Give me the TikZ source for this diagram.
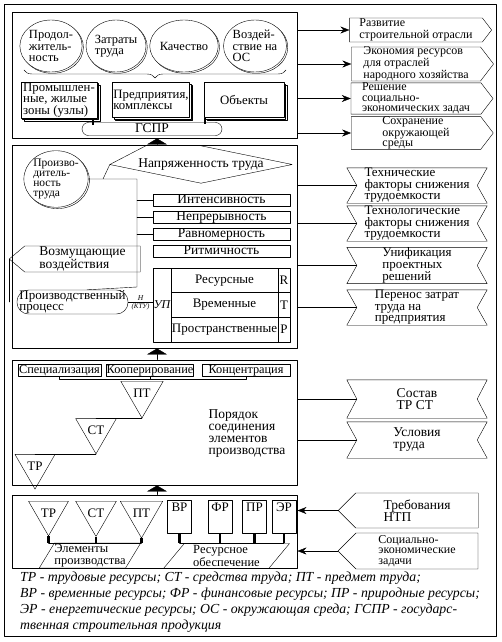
\documentclass[tikz,border=0pt]{standalone}
\usepackage{fontspec}
\setmainfont{Liberation Serif}
\usetikzlibrary{arrows.meta,shapes.geometric,shapes.misc,shapes.symbols,shadows,decorations.pathreplacing}
\begin{document}
\begin{tikzpicture}[x=1pt,y=-1pt,>={Stealth[length=9pt,width=7pt]},line join=round,line cap=round,
	font=\fontsize{13.5}{12}\selectfont,
	blk/.style={draw,line width=0.9pt,minimum width=285pt,inner sep=0pt},
	circ/.style={ellipse,draw,fill=white,inner sep=0pt,align=left,copy shadow={shadow xshift=1.3pt,shadow yshift=-1.3pt}},
	sbox/.style={draw,fill=white,minimum height=35pt,inner sep=1pt,align=left,font=\fontsize{12.8}{11.5}\selectfont,double copy shadow={shadow xshift=1.5pt,shadow yshift=-1.5pt}},
	sigr/.style={signal,signal to=east,signal pointer angle=105,draw,minimum width=142pt,inner sep=0pt,align=left},
	sigl/.style={signal,signal to=west,signal pointer angle=90,draw,minimum width=140pt,inner sep=0pt,align=left},
	rib/.style={minimum width=140pt,inner sep=0pt,align=left},
	cell/.style={draw,minimum height=24.67pt,inner sep=0pt,font=\fontsize{13}{12}\selectfont},
	bar/.style={draw,minimum width=137pt,minimum height=12pt,inner sep=0pt,text height=9pt,text depth=2.5pt},
	tri/.style={regular polygon,regular polygon sides=3,shape border rotate=180,draw,minimum size=46.2pt,inner sep=0pt,font=\fontsize{13}{12}\selectfont},
	para/.style={trapezium,trapezium stretches=true,draw,minimum height=25pt,inner sep=0pt,align=left,font=\fontsize{12.5}{11.5}\selectfont},
	stem/.style={line width=2.2pt,line cap=butt},
	up/.style={-{Triangle[width=20pt,length=6pt]}}]
	\useasboundingbox (0,0) rectangle (502,642);
	\draw[line width=1pt] (4,5) rectangle (496,636);
	\coordinate (m) at (157,0);

	\node[blk,minimum height=126pt] (b1) at (154.5,75) {};
	\foreach \n/\x/\t in {c1/51/{Продол-\\житель-\\ность},c2/116/{Затраты\\труда},c3/184/Качество,c4/255/{Воздей-\\ствие на\\ОС}}
		\node[circ,minimum width=60pt,minimum height=52pt,font=\fontsize{12.5}{11.5}\selectfont] (\n) at (\x,46) {\t};
	\draw[decorate,decoration={brace,mirror,amplitude=8pt}] (24,70) -- (286,70);
	\foreach \n/\x/\w/\t in {s1/59/76/{Промышлен-\\ные, жилые\\зоны (узлы)},s2/151/77/{Предприятия,\\комплексы},s3/244/80/Объекты}
		\node[sbox,minimum width=\w pt] (\n) at (\x,100) {\t};
	\node[draw,fill=white,rounded rectangle,minimum width=140pt,minimum height=13pt,inner sep=0pt,text height=9pt,text depth=2pt] (g) at (152,129) {ГСПР};
	\draw[stem] ([xshift=-4pt]s1.south east) -- +(0,6.5) ([xshift=1pt]s3.south west) -- +(0,6.5);
	\foreach \n/\y/\h/\f/\t in {r1/30/24/12/{Развитие\\строительной отрасли},r2/64/30/10.5/{Экономия ресурсов\\для отраслей\\народного хозяйства},r3/98.5/30/10.5/{Решение\\социально-\\экономических задач},r4/133/30/10.5/{Сохранение\\окружающей\\среды}}
		\node[sigr,minimum height=\h pt,font=\fontsize{12}{\f}\selectfont] (\n) at (416,\y) {\t};
	\foreach \n in {r1,r2,r3,r4}
		\draw[->] (b1.east |- \n.west) -- (\n.west);

	\node[blk,minimum height=203pt] (b2) at (154.5,246.5) {};
	\draw[up] (m |- b2.north) -- (m |- b1.south);
	\node[circ,minimum size=52pt,font=\fontsize{11.5}{10}\selectfont] (pc) at (56,179) {Произво-\\дитель-\\ность\\труда};
	\node[minimum width=182pt,minimum height=37pt,inner sep=0pt] (nt) at (201,164.5) {Напряженность труда};
	\draw ([xshift=36pt]nt.north west) -- (nt.west) -- (nt.south) -- (nt.east) -- (nt.north);
	\foreach \n/\y/\t in {i1/200/Интенсивность,i2/217/Непрерывность,i3/234/Равномерность,i4/251/Ритмичность}
		\node[bar] (\n) at (221.5,\y) {\t};
	\node[signal,signal to=west,signal pointer angle=80,draw,minimum width=131pt,minimum height=26pt,inner sep=0pt,align=left,font=\fontsize{13.5}{12}\selectfont] (vd) at (82.5,259) {Возмущающие\\воздействия};
	\node[draw,rounded corners=11.5pt,minimum width=111pt,minimum height=24pt,inner sep=0pt,align=left,font=\fontsize{13}{11.5}\selectfont] (pp) at (72.5,302) {Производственный\\процесс};
	\coordinate (v) at (137,179);
	\draw (pc.east) -- (103,179) -- (nt.west) (103,179) -- (v) -- (137,287) -- (pp.40);
	\foreach \n in {i1,i2,i3}
		\draw (v |- \n.west) -- (\n.west);
	\draw (vd.west) -- (vd.west |- pp.west);
	\node[draw,minimum width=18pt,minimum height=74pt,inner sep=0pt,font=\fontsize{12}{12}\itshape\selectfont] (upl) at (162,305) {УП};
	\foreach \n/\l/\y/\t/\s in {ra/la/280.33/Ресурсные/R,rb/lb/305/Временные/T,rc/lc/329.67/Пространственные/P}{
		\node[cell,minimum width=107pt] (\n) at (224.5,\y) {\t};
		\node[cell,minimum width=12pt] (\l) at (284,\y) {\s};
	}
	\draw (pp.east) -- (upl.west |- pp.east)
		node[midway,above,inner sep=1pt,font=\fontsize{7.5}{7}\itshape\selectfont] {Н}
		node[midway,below,inner sep=1pt,font=\fontsize{7}{7}\itshape\selectfont] {(КТУ)};
	\foreach \n/\y/\t in {f1/185.5/{Технические\\факторы снижения\\трудоемкости},f2/223.5/{Технологические\\факторы снижения\\трудоемкости},f3/265.5/{Унификация\\проектных\\решений},f4/307.5/{Перенос затрат\\труда на\\предприятия}}
		\node[rib,minimum height=35pt,font=\fontsize{13}{11.5}\selectfont] (\n) at (417,\y) {\t};

	\node[blk,minimum height=125pt] (b3) at (154.5,422.5) {};
	\draw[up] (m |- b3.north) -- (m |- b2.south);
	\foreach \n/\x/\w/\t in {sp/59.5/83/Специализация,ko/150/84/Кооперирование,kc/246/88/Концентрация}
		\node[draw,minimum width=\w pt,minimum height=12pt,inner sep=0pt,font=\fontsize{12.3}{12}\selectfont,text height=8.5pt,text depth=2.5pt] (\n) at (\x,370) {\t};
	\draw (sp.south) -- ++(0,3) -| (kc.south) (ko.south) -- ++(0,3);
	\node[tri,anchor=north] (p3) at (142,381) {ПТ};
	\node[tri,anchor=north] (c3) at ([xshift=-46pt]p3.south) {СТ};
	\node[tri,anchor=north] (t3) at ([xshift=-61pt]c3.south) {ТР};
	\draw (p3.south) -- (c3.north) (c3.south) -- (t3.north);
	\node[anchor=west,align=left,font=\fontsize{13.5}{12}\selectfont] (po) at (205,434) {Порядок\\соединения\\элементов\\производства};
	\node[rib,minimum height=38pt] (sa) at (417,399) {Состав\\ТР СТ};
	\node[rib,minimum height=36pt] (ut) at (417,440) {Условия\\труда};
	\foreach \n in {f1,f2,f3,f4,sa,ut}{
		\draw (\n.north west) -- ([xshift=10pt]\n.west) -- (\n.south west) -- (\n.south east) -- ([xshift=-10pt]\n.east) -- (\n.north east) -- cycle;
		\draw (b2.east |- \n.west) -- ([xshift=10pt]\n.west);
	}

	\node[blk,minimum height=73pt] (b4) at (154.5,531.5) {};
	\draw[up] (m |- b4.north) -- (m |- b3.south);
	\foreach \n/\x/\t in {e1/48.5/ТР,e2/96/СТ,e3/141.5/ПТ}
		\node[tri,anchor=north] (\n) at (\x,501) {\t};
	\node[para,minimum width=94pt,trapezium left angle=56,trapezium right angle=124] (ep) at (90,555.5) {Элементы\\производства};
	\node[para,minimum width=127pt,trapezium left angle=52,trapezium right angle=128] (ro) at (226.5,556) {Ресурсное\\обеспечение};
	\foreach \n in {e1,e2,e3}
		\draw[stem] (\n.south) -- (\n.south |- ep.north);
	\draw (e1.south |- ep.north) -- (e3.south |- ep.north);
	\foreach \n/\x/\t in {vr/179.5/ВР,fr/220/ФР,pr/254.5/ПР,er/284/ЭР}
		\node[draw,minimum width=24pt,minimum height=33pt,inner sep=0pt,label={[anchor=north,inner sep=3pt,font=\fontsize{13}{12}\selectfont]north:\t}] (\n) at (\x,516.5) {};
	\foreach \n in {vr,fr,pr,er}
		\draw[stem] (\n.south) -- (\n.south |- ro.north);
	\draw (vr.south |- ro.north) -- (er.south |- ro.north);
	\node[sigl,minimum height=35pt] (tn) at (417,510.5) {Требования\\НТП};
	\node[sigl,minimum height=36pt,font=\fontsize{12}{10.8}\selectfont] (sz) at (417,551) {Социально-\\экономические\\задачи};
	\draw[->] (tn.west) -- (tn.west -| b4.east);
	\draw[->] (sz.west) -- (sz.west -| b4.east);

	\node[anchor=north west,align=left,inner sep=0pt,font=\fontsize{13.8}{16}\itshape\selectfont] (lg) at (20,572) {ТР - трудовые ресурсы; СТ - средства труда; ПТ - предмет труда;\\ВР - временные ресурсы; ФР - финансовые ресурсы; ПР - природные ресурсы;\\ЭР - енергетические ресурсы; ОС - окружающая среда; ГСПР - государс-\\твенная строительная продукция};
\end{tikzpicture}
\end{document}
